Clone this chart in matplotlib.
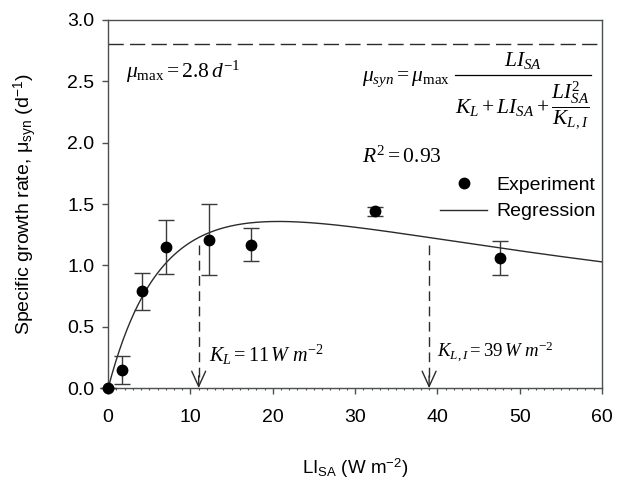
import numpy as np
import matplotlib
matplotlib.use("Agg")
import matplotlib.pyplot as plt
from matplotlib.ticker import MultipleLocator
from matplotlib.lines import Line2D

# Data
li_exp = [0.0, 1.7, 4.1, 7.0, 12.2, 17.4, 32.4, 47.6]
mu_exp = [0.0, 0.15, 0.79, 1.15, 1.21, 1.17, 1.44, 1.06]
mu_err = [0.0, 0.115, 0.15, 0.22, 0.29, 0.135, 0.035, 0.135]

# Regression model parameters shown on the chart
MU_MAX = 2.8
K_L = 11.0
K_LI = 39.0

x_ticks = [0, 10, 20, 30, 40, 50, 60]
y_ticks = [0.0, 0.5, 1.0, 1.5, 2.0, 2.5, 3.0]

plt.rcParams['font.family'] = ['Liberation Sans', 'DejaVu Sans']
plt.rcParams['mathtext.fontset'] = 'custom'
plt.rcParams['mathtext.rm'] = 'Liberation Serif'
plt.rcParams['mathtext.it'] = 'Liberation Serif:italic'
plt.rcParams['mathtext.bf'] = 'Liberation Serif:bold'
plt.rcParams['mathtext.sf'] = 'Liberation Sans'

fig = plt.figure(figsize=(6.18, 4.84), dpi=100)
ax = fig.add_axes([0.175, 0.198, 0.799, 0.761])

line_col = '#2b2b2b'
spine_col = '#4a5050'

xs = np.linspace(0, 60, 400)
model = MU_MAX * xs / (K_L + xs + xs**2 / K_LI)
ax.plot(xs, model, color=line_col, lw=1.0, zorder=3)

ax.errorbar(li_exp, mu_exp, yerr=mu_err, fmt='o', color='black', ms=7.5,
            ecolor='#3a3a3a', elinewidth=1.0, capsize=5.5, capthick=1.0,
            zorder=4, clip_on=False)

# mu_max dashed line
ax.axhline(MU_MAX, color=line_col, lw=1.0, ls=(0, (11, 4.5)), zorder=2)

# K_L and K_L,I dashed arrows
for k in (K_L, K_LI):
    ytop = MU_MAX * k / (K_L + k + k**2 / K_LI) - 0.06
    ax.plot([k, k], [ytop, 0.05], color=line_col, lw=1.0, ls=(0, (7, 4)), zorder=2)
    ax.annotate('', xy=(k, 0.0), xytext=(k, 0.1),
                arrowprops=dict(arrowstyle='->, head_length=0.55, head_width=0.25',
                                color=line_col, lw=1.0, mutation_scale=20,
                                shrinkA=0, shrinkB=0))

ax.set_xlim(0, 60)
ax.set_ylim(0, 3.0)
ax.set_xticks(x_ticks)
ax.set_yticks(y_ticks)
ax.set_xticklabels([str(t) for t in x_ticks])
ax.set_yticklabels([f"{t:.1f}" for t in y_ticks])
ax.xaxis.set_minor_locator(MultipleLocator(1))
ax.tick_params(axis='both', which='major', direction='out', length=4, width=1,
               color=spine_col, labelsize=14)
ax.tick_params(axis='x', which='major', pad=11)
ax.tick_params(axis='y', which='major', pad=6)
ax.tick_params(axis='x', which='minor', direction='out', length=1.5, width=0.8,
               color=spine_col)
ax.tick_params(top=False, right=False)
for s in ax.spines.values():
    s.set_color(spine_col)
    s.set_linewidth(1.0)

ax.set_xlabel(r'LI$_{\mathsf{SA}}$ (W m$^{\mathsf{-2}}$)', fontsize=13.5)
ax.set_ylabel(r'Specific growth rate, $\mathsf{\mu}_{\mathsf{syn}}$ (d$^{\mathsf{-1}}$)',
              fontsize=14)
ax.xaxis.set_label_coords(0.5, -0.185)
ax.yaxis.set_label_coords(-0.14, 0.5)

ax.text(2.2, 2.58, r'$\mu_{\mathrm{max}}=2.8\,d^{-1}$', fontsize=15.5, va='center')

# Regression equation, built from pieces
eq_fs = 15.5
ax.text(30.8, 2.52, r'$\mu_{syn}=\mu_{\mathrm{max}}$', fontsize=eq_fs, va='center')
ax.plot([42.1, 58.7], [2.551, 2.551], color='black', lw=0.9, clip_on=False)
ax.text(50.4, 2.665, r'$LI_{SA}$', fontsize=eq_fs, va='center', ha='center')
ax.text(42.1, 2.30, r'$K_L+LI_{SA}+\dfrac{LI_{SA}^2}{K_{L,I}}$', fontsize=eq_fs,
        va='center', ha='left')

ax.text(30.8, 1.885, r'$R^2=0.93$', fontsize=15.5, va='center')
ax.text(12.2, 0.27, r'$K_L=11\,W\ m^{-2}$', fontsize=14.5, va='center')
ax.text(39.9, 0.30, r'$K_{L,I}=39\,W\ m^{-2}$', fontsize=13.5, va='center')

handles = [Line2D([], [], marker='o', color='black', ls='none', ms=7.5),
           Line2D([], [], color=line_col, lw=1.0)]
ax.legend(handles, ['Experiment', 'Regression'], loc='upper left',
          bbox_to_anchor=(0.673, 0.575), frameon=False, fontsize=14,
          handlelength=2.4, handletextpad=0.45, labelspacing=0.45,
          borderaxespad=0.0, borderpad=0.0)

fig.savefig('out.png', dpi=100)
